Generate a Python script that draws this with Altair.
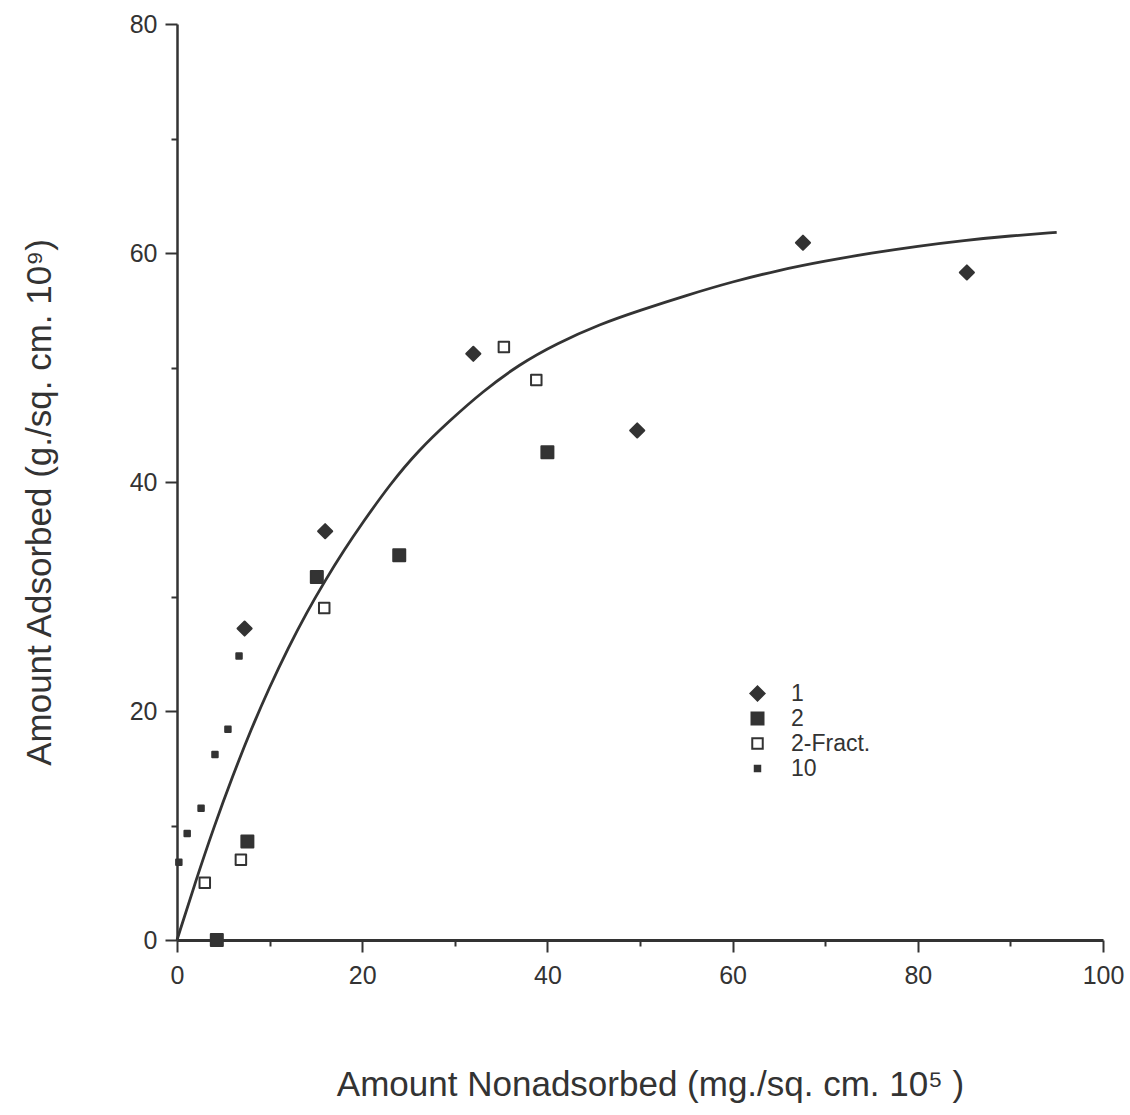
import altair as alt
import pandas as pd

# ---- data ----
series_names = ["1", "2", "2-Fract.", "10"]

s1_x = [7.3, 16.0, 32.0, 49.7, 67.6, 85.3]
s1_y = [27.2, 35.7, 51.2, 44.5, 60.9, 58.3]

s2_x = [4.3, 7.6, 15.1, 24.0, 40.0]
s2_y = [0.0, 8.6, 31.7, 33.6, 42.6]

s2f_x = [3.0, 6.9, 15.9, 35.3, 38.8]
s2f_y = [5.0, 7.0, 29.0, 51.8, 48.9]

s10_x = [0.2, 1.1, 2.6, 4.1, 5.5, 6.7]
s10_y = [6.8, 9.3, 11.5, 16.2, 18.4, 24.8]

# fitted curve
curve_x = [0, 2, 4, 6, 8, 10, 12, 14, 16, 18, 20, 23, 26, 29.5, 33, 37, 41,
           45.7, 50, 55, 60, 65, 70, 75, 80, 85, 90, 95]
curve_y = [0, 5.1, 9.9, 14.3, 18.4, 22.1, 25.5, 28.6, 31.4, 34.0, 36.4, 39.8,
           42.7, 45.4, 47.9, 50.3, 52.1, 53.8, 55.0, 56.3, 57.5, 58.5, 59.3,
           60.0, 60.6, 61.1, 61.5, 61.8]

x_ticks = [0, 10, 20, 30, 40, 50, 60, 70, 80, 90, 100]
y_ticks = [0, 10, 20, 30, 40, 50, 60, 70, 80]

rows = []
for name, xs, ys in [("1", s1_x, s1_y), ("2", s2_x, s2_y),
                     ("2-Fract.", s2f_x, s2f_y), ("10", s10_x, s10_y)]:
    for a, b in zip(xs, ys):
        rows.append({"x": a, "y": b, "series": name})
pts = pd.DataFrame(rows)
curve = pd.DataFrame({"x": curve_x, "y": curve_y})

INK = "#333333"
FONT = "Liberation Sans"

x_scale = alt.Scale(domain=[0, 100], nice=False, zero=False)
y_scale = alt.Scale(domain=[0, 80], nice=False, zero=False)

x_axis = alt.Axis(
    values=x_ticks,
    labelExpr="datum.value % 20 === 0 ? datum.label : ''",
    tickSize={"condition": {"test": "datum.value % 20 === 0", "value": 12}, "value": 6},
    tickWidth=2, tickColor=INK,
    domainColor=INK, domainWidth=3,
    labelFont=FONT, labelFontSize=25, labelColor=INK, labelPadding=11,
    labelFlush=False, labelOverlap=False,
    grid=False,
    title="Amount Nonadsorbed (mg./sq. cm. 10\u2075 )",
    titleFont=FONT, titleFontSize=35, titleFontWeight="normal", titleColor=INK,
    titleX=473, titleY=155, titleBaseline="alphabetic", titleAlign="center",
)
y_axis = alt.Axis(
    values=y_ticks,
    labelExpr="datum.value % 20 === 0 ? datum.label : ''",
    tickSize={"condition": {"test": "datum.value % 20 === 0", "value": 12}, "value": 6},
    tickWidth=2, tickColor=INK,
    domainColor=INK, domainWidth=2.5,
    labelFont=FONT, labelFontSize=25, labelColor=INK, labelPadding=8,
    labelFlush=False, labelOverlap=False,
    grid=False,
    title="Amount Adsorbed (g./sq. cm. 10\u2079)",
    titleFont=FONT, titleFontSize=35, titleFontWeight="normal", titleColor=INK,
    titleX=-127, titleY=478, titleAngle=270, titleBaseline="alphabetic", titleAlign="center",
)

leg = alt.Legend(
    title=None, orient="none", legendX=569, legendY=658,
    labelFont=FONT, labelFontSize=23, labelColor=INK,
    labelOffset=22, rowPadding=1, padding=0,
    symbolStrokeWidth=2,
)

line = alt.Chart(curve).mark_line(
    color=INK, strokeWidth=2.8, interpolate="basis", clip=False
).encode(
    x=alt.X("x:Q", scale=x_scale, axis=x_axis),
    y=alt.Y("y:Q", scale=y_scale, axis=y_axis),
)

points = alt.Chart(pts).mark_point(
    strokeWidth=2, strokeJoin="round", opacity=1, filled=False, clip=False
).encode(
    x=alt.X("x:Q", scale=x_scale),
    y=alt.Y("y:Q", scale=y_scale),
    shape=alt.Shape("series:N", scale=alt.Scale(domain=series_names,
                    range=["diamond", "square", "square", "square"]), legend=leg),
    fill=alt.Fill("series:N", scale=alt.Scale(domain=series_names,
                  range=[INK, INK, "white", INK]), legend=leg),
    stroke=alt.Stroke("series:N", scale=alt.Scale(domain=series_names,
                      range=[INK, INK, INK, INK]), legend=leg),
    size=alt.Size("series:N", scale=alt.Scale(type="ordinal", domain=series_names,
                  range=[200, 144, 110, 30]), legend=leg),
)

chart = alt.layer(line, points).properties(
    width=926, height=916,
    autosize=alt.AutoSizeParams(type="none"),
    padding={"left": 177, "top": 24, "right": 27, "bottom": 175},
    background="white",
).configure_view(stroke=None)

chart.save("out.html", embed_options={"renderer": "svg", "actions": False})
